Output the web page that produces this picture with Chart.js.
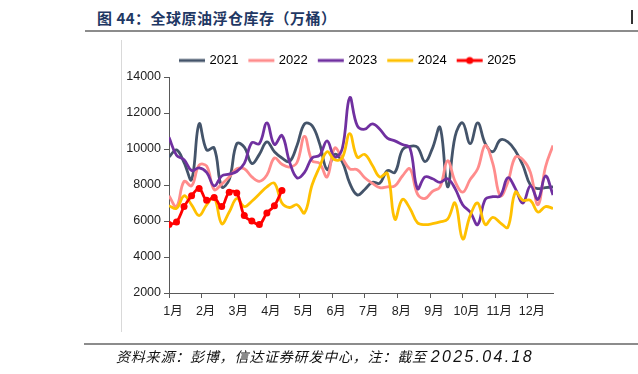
<!DOCTYPE html>
<html>
<head>
<meta charset="utf-8">
<script src="https://cdn.jsdelivr.net/npm/chart.js@4.4.1/dist/chart.umd.min.js"></script>
<style>
  html, body { margin:0; padding:0; background:#fff; }
  body { width:638px; height:374px; position:relative; overflow:hidden; font-family:"Liberation Sans","Noto Sans CJK SC",sans-serif; }
  #c { position:absolute; left:0; top:0; }
  .title { position:absolute; left:97px; top:7px; font-size:15px; font-weight:bold; color:#1F3864; font-family:"Noto Sans CJK SC","Liberation Sans",sans-serif; white-space:nowrap; letter-spacing:0.5px; }
  .tline { position:absolute; left:85px; top:30px; width:553px; height:2px; background:#8c8c8c; }
  .bline { position:absolute; left:84px; top:343px; width:554px; height:2px; background:#8c8c8c; }
  .vline { position:absolute; left:121px; top:40px; width:1px; height:292px; background:#d9d9d9; }
  .foot { position:absolute; left:116px; top:346px; font-size:14px; font-style:italic; color:#111; font-family:"Noto Sans CJK SC","Liberation Sans",sans-serif; white-space:nowrap; letter-spacing:0.8px; }
  .foot span { font-family:"Liberation Sans",sans-serif; font-size:16px; letter-spacing:2.3px; }
  .corner { position:absolute; left:631px; top:10px; width:2px; height:14px; background:#333; }
</style>
</head>
<body>
<div class="title">图 44：全球原油浮仓库存（万桶）</div>
<div class="tline"></div>
<div class="corner"></div>
<div class="vline"></div>
<canvas id="c" width="638" height="374"></canvas>
<div class="bline"></div>
<div class="foot">资料来源：彭博，信达证券研发中心，注：截至 <span>2025.04.18</span></div>
<script>
// ---- data (weekly, 52 weeks per year) ----
const years = ["2021", "2022", "2023", "2024", "2025"];
const monthLabels = ["1月","2月","3月","4月","5月","6月","7月","8月","9月","10月","11月","12月"];
const yTicks = [2000, 4000, 6000, 8000, 10000, 12000, 14000];

const s2021 = [9550,9950,9250,8300,11400,9950,10050,7900,8300,10300,10100,9200,9700,10400,9850,9500,9300,10200,11400,11300,10300,8850,9700,9300,8100,7450,7750,8150,8100,8800,8700,9950,10150,10100,9300,10050,11200,7900,10700,11450,10300,11450,10300,9850,10500,10400,9900,9100,8000,7800,7850,7900];
const s2022 = [7400,6800,8200,7950,9100,9050,7750,8050,8450,8900,8900,8450,8200,8550,9500,9150,9000,9250,10700,9350,9200,8450,10050,9500,8900,8850,8400,8100,7850,7900,7950,8500,8900,7500,7250,7650,7900,9350,8200,7600,8300,8900,10200,9200,7400,8150,9550,9400,8700,6900,9000,10200];
const s2023 = [10650,9650,9400,8800,8950,8700,7950,8500,8600,8750,9200,10350,10300,11450,10250,10750,9300,8400,8700,9500,9650,10450,9550,10000,12850,11300,11100,11400,11100,10600,10450,10250,10050,7800,8450,8350,8150,8350,7800,6900,6500,5800,7200,7350,7400,8400,7800,7000,7950,7200,8500,7450];
const s2024 = [6850,6700,7400,6900,6300,6900,7300,5850,6500,7250,6800,7100,7500,7900,8100,7000,6750,6900,6450,8000,9000,9850,9400,9500,10850,9550,9700,9100,8450,8650,6100,7200,6700,5900,5800,5850,5950,6100,7000,5000,6300,7000,5800,6200,5900,5650,7600,7150,7150,6500,6800,6700];
const s2025 = [5800,5950,6800,7400,7800,7150,7300,6800,7600,7550,6300,6000,5800,6450,6850,7700];

const colors = ["#44546A", "#FF8C8C", "#7030A0", "#FFC000", "#FF0000"];
const series = [s2021, s2022, s2023, s2024, s2025];

function toXY(arr){ return arr.map((v,i)=>({x:i, y:v})); }

function legendImg(color, dot){
  const c = document.createElement('canvas');
  c.width = 32; c.height = 10;
  const g = c.getContext('2d');
  g.strokeStyle = color; g.lineWidth = 3;
  g.beginPath(); g.moveTo(3,5); g.lineTo(29,5); g.stroke();
  if (dot){ g.fillStyle = color; g.beginPath(); g.arc(16,5,3.5,0,Math.PI*2); g.fill(); }
  return c;
}
const legendImgs = colors.map((c,i)=>legendImg(c, i===4));

const datasets = years.map((y,i)=>({
  label: y,
  data: toXY(series[i]),
  borderColor: colors[i],
  backgroundColor: colors[i],
  borderWidth: 2.8,
  tension: 0.4,
  pointRadius: i===4 ? 3.5 : 0,
  pointHoverRadius: i===4 ? 3.5 : 0,
  pointBackgroundColor: colors[i],
  pointBorderWidth: 0,
  fill: false,
  order: i===4 ? 0 : 5 - i
}));

const monthPos = monthLabels.map((m,i)=> i*52/12);
const FONT = {family: '"Liberation Sans","Noto Sans CJK SC",sans-serif', size: 12.5};
const LFONT = {family: '"Liberation Sans","Noto Sans CJK SC",sans-serif', size: 13};

// shift the legend so it is centred like the reference
const legendShift = {
  id: 'legendShift',
  afterLayout(chart) {
    const lg = chart.legend;
    if (lg) { lg.left += 27; lg.right += 27; }
  }
};

new Chart(document.getElementById('c'), {
  type: 'line',
  data: { datasets },
  plugins: [legendShift],
  options: {
    responsive: false,
    animation: false,
    events: [],
    layout: { padding: { left: 90, right: 85, top: 42, bottom: 51 } },
    plugins: {
      tooltip: { enabled: false },
      legend: {
        position: 'top',
        align: 'center',
        labels: {
          usePointStyle: true,
          pointStyleWidth: 22,
          boxHeight: 10,
          padding: 12,
          color: '#222',
          font: LFONT,
          generateLabels: (chart) => chart.data.datasets.map((d,i)=>({
            text: d.label, pointStyle: legendImgs[i], datasetIndex: i,
            fillStyle: d.borderColor, strokeStyle: d.borderColor, lineWidth: 0, hidden: false
          }))
        }
      }
    },
    scales: {
      x: {
        type: 'linear',
        min: 0, max: 51,
        afterBuildTicks: (scale) => { scale.ticks = monthPos.map(v=>({value:v})); },
        afterFit: (scale) => { scale.height = 30; },
        grid: { drawOnChartArea: false, tickLength: 5, color: '#595959', lineWidth: 1 },
        border: { color: '#595959', width: 1 },
        ticks: {
          autoSkip: false, maxRotation: 0, padding: 6, labelOffset: 4,
          color: '#222', font: FONT,
          callback: (v) => { const k = monthPos.findIndex(p=>Math.abs(p-v)<1e-6); return k>=0 ? monthLabels[k] : ''; }
        }
      },
      y: {
        min: 2000, max: 14000,
        afterBuildTicks: (scale) => { scale.ticks = yTicks.map(v=>({value:v})); },
        afterFit: (scale) => { scale.width = 79; },
        grid: { drawOnChartArea: false, tickLength: 5, color: '#595959', lineWidth: 1 },
        border: { color: '#595959', width: 1 },
        ticks: { padding: 3, color: '#222', font: FONT, callback: (v)=> String(v) }
      }
    }
  }
});
</script>
</body>
</html>
